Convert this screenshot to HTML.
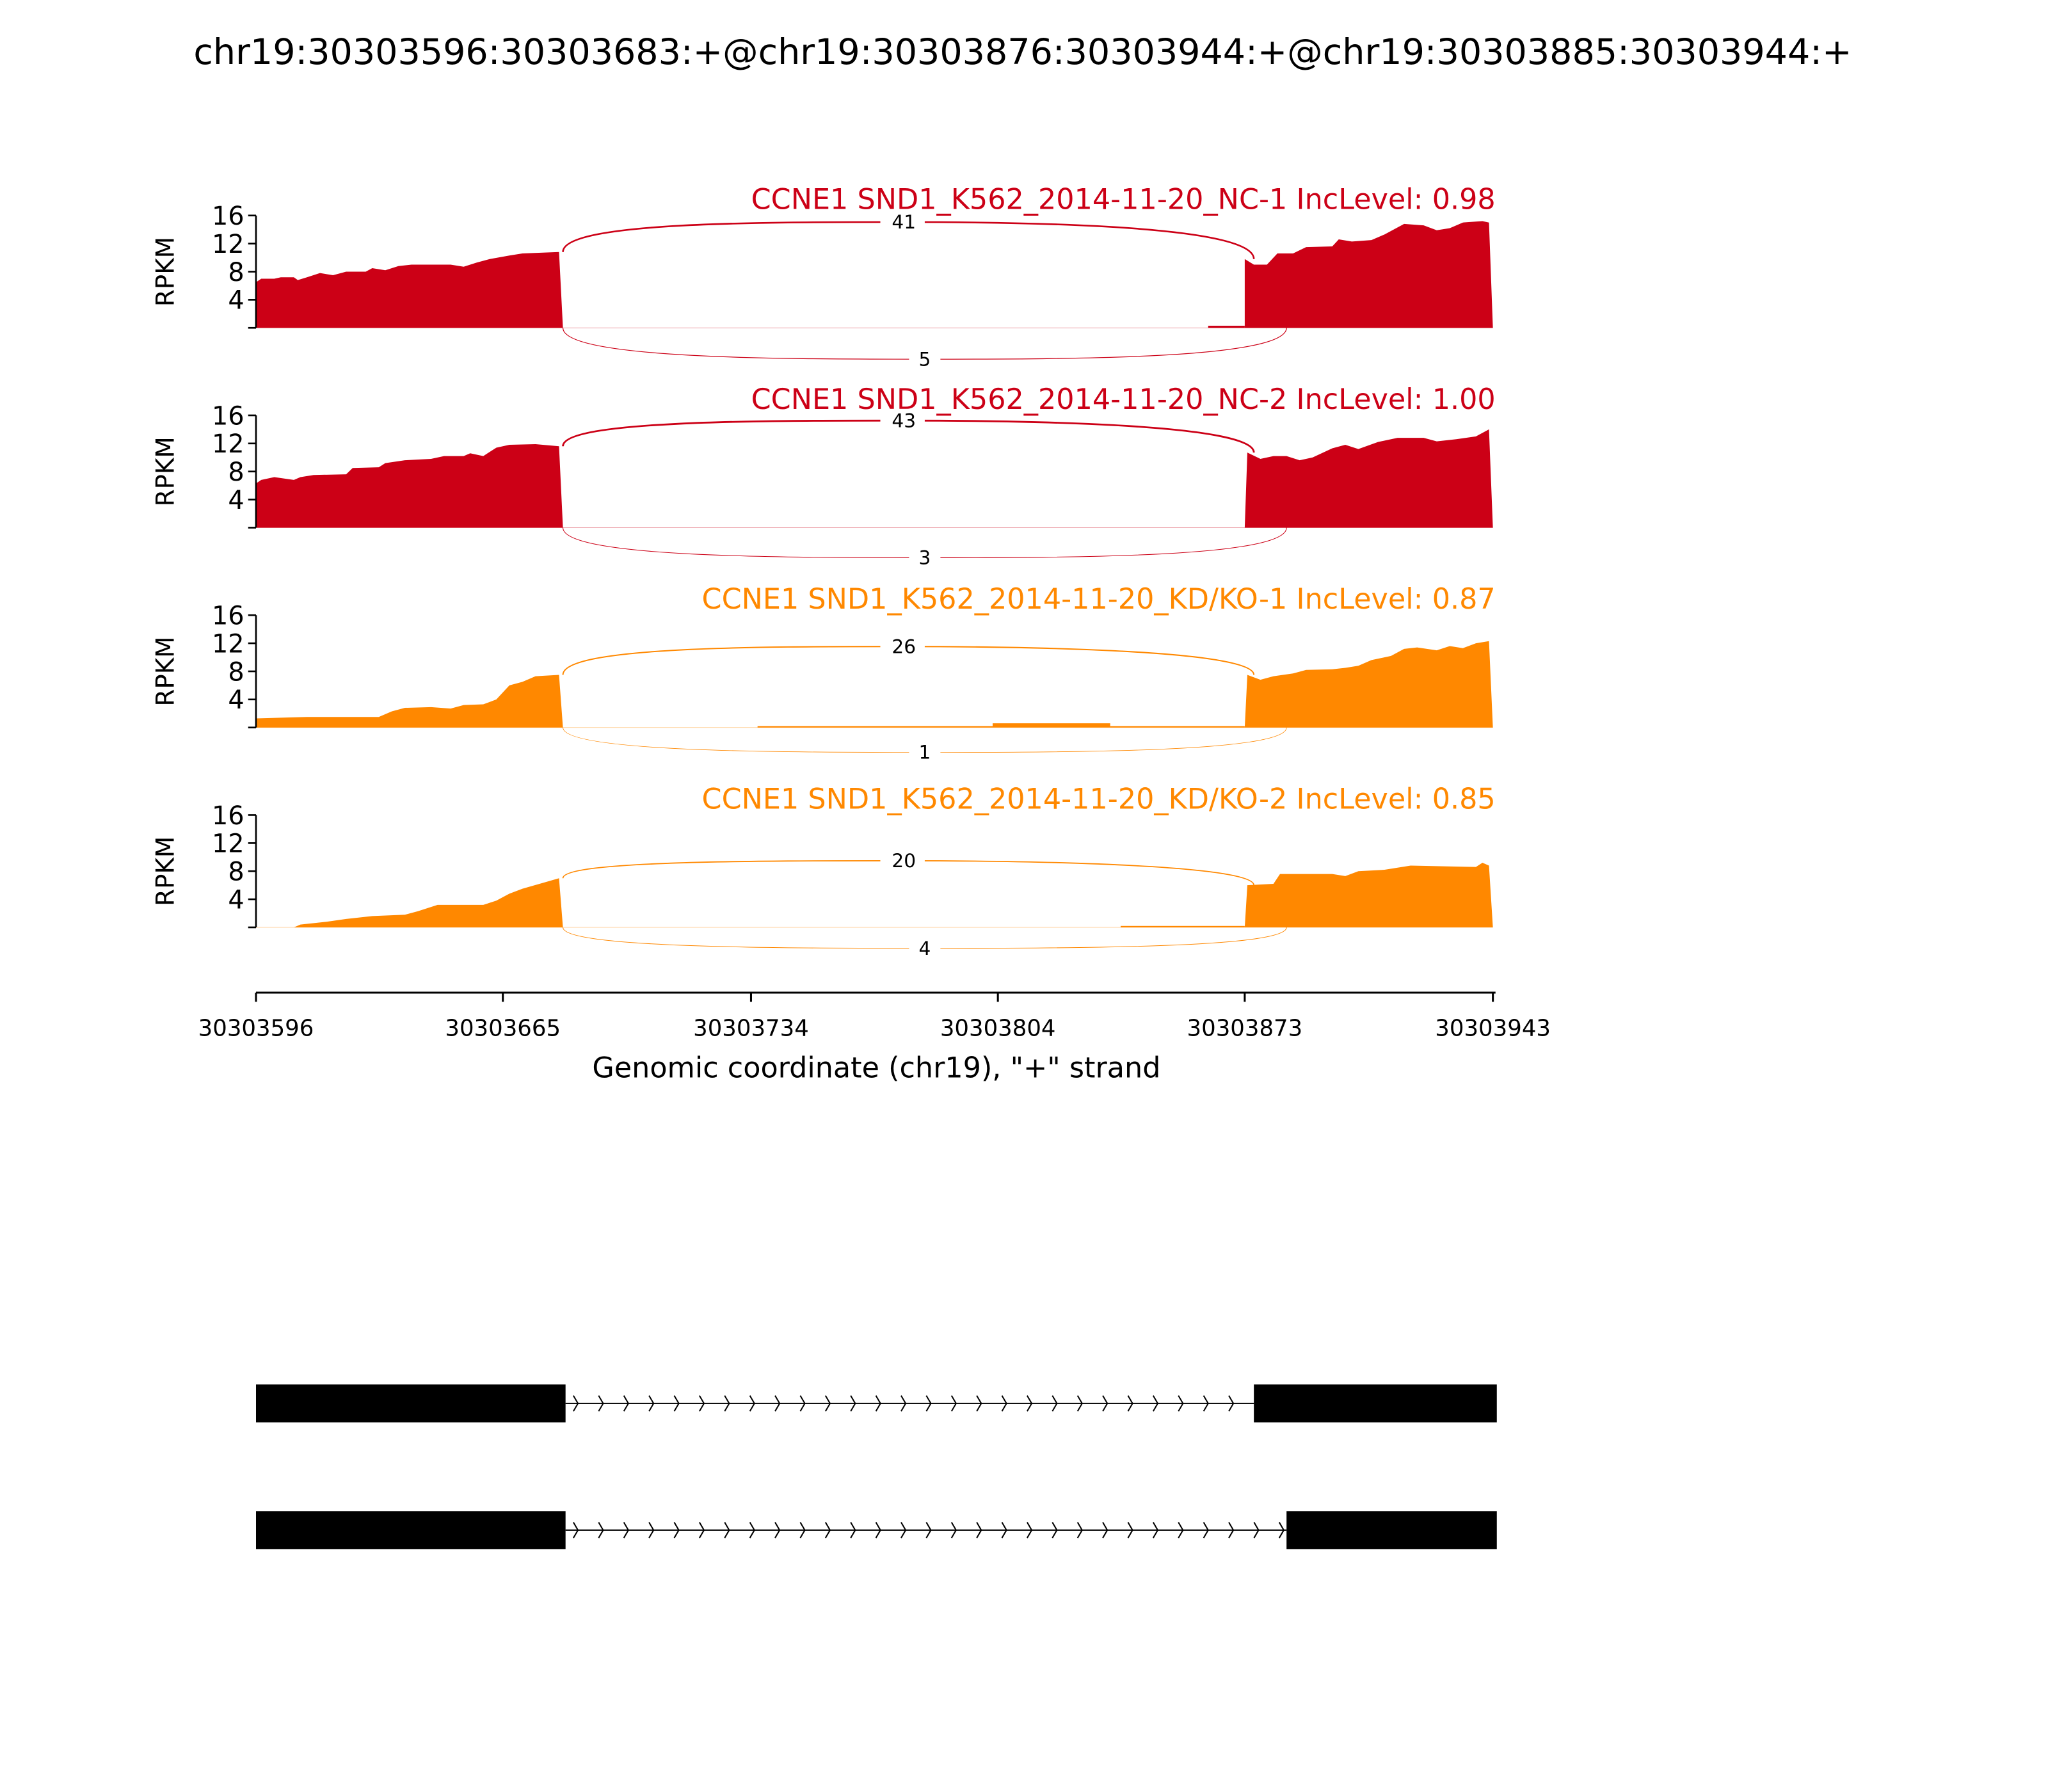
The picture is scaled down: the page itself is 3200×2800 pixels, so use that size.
<!DOCTYPE html>
<html><head><meta charset="utf-8"><style>
html,body{margin:0;padding:0;background:#fff}
svg{display:block}
text{font-family:"DejaVu Sans","Liberation Sans",sans-serif}
</style></head><body>
<svg id="s" width="3200" height="2800" viewBox="0 0 1568 1372" preserveAspectRatio="none" xmlns="http://www.w3.org/2000/svg">
<rect width="1568" height="1372" fill="#fff"/>
<text x="783" y="49" font-size="27.2" text-anchor="middle">chr19:30303596:30303683:+@chr19:30303876:30303944:+@chr19:30303885:30303944:+</text>
<g id="g"></g>
</svg>
<script>
var NS="http://www.w3.org/2000/svg",g=document.getElementById('g');
function el(t,a,txt){var e=document.createElementNS(NS,t);for(var k in a)e.setAttribute(k,a[k]);if(txt!=null)e.textContent=txt;g.appendChild(e);return e;}
var panels=[
{base:251,col:"#cc0016",title:"CCNE1 SND1_K562_2014-11-20_NC-1 IncLevel: 0.98",top:41,topY:170,bot:5,botY:275,tw:1.3,bw:0.6,
e1:[[196,6.5],[200,7],[210,7],[215,7.2],[225,7.2],[228,6.8],[235,7.2],[245,7.8],[255,7.5],[265,8],[280,8],[285,8.5],[295,8.2],[305,8.8],[315,9],[345,9],[355,8.7],[365,9.3],[375,9.8],[390,10.3],[400,10.6],[428,10.8]],
e2:[[953,9.8],[960,9],[970,9],[978,10.6],[990,10.6],[1000,11.5],[1020,11.6],[1025,12.6],[1035,12.3],[1050,12.5],[1060,13.3],[1075,14.8],[1090,14.6],[1100,13.9],[1110,14.2],[1120,15],[1135,15.2],[1140,15]],
low:[[925,953,0.3]],s1:10.8,s2:9.8},
{base:404,col:"#cc0016",title:"CCNE1 SND1_K562_2014-11-20_NC-2 IncLevel: 1.00",top:43,topY:322,bot:3,botY:427,tw:1.4,bw:0.5,
e1:[[196,6.3],[200,6.8],[210,7.2],[225,6.8],[230,7.2],[240,7.5],[265,7.6],[270,8.5],[290,8.6],[295,9.2],[310,9.6],[330,9.8],[340,10.2],[355,10.2],[360,10.6],[370,10.2],[380,11.4],[390,11.8],[410,11.9],[428,11.6]],
e2:[[955,10.7],[965,9.8],[975,10.2],[985,10.2],[995,9.6],[1005,10],[1020,11.3],[1030,11.8],[1040,11.2],[1055,12.2],[1070,12.8],[1090,12.8],[1100,12.3],[1115,12.6],[1130,13],[1140,14]],
low:[],s1:11.6,s2:10.7},
{base:557,col:"#ff8800",title:"CCNE1 SND1_K562_2014-11-20_KD/KO-1 IncLevel: 0.87",top:26,topY:495,bot:1,botY:576,tw:1.0,bw:0.4,
e1:[[196,1.3],[235,1.5],[290,1.5],[300,2.3],[310,2.8],[330,2.9],[345,2.7],[355,3.2],[370,3.3],[380,4],[390,6],[400,6.5],[410,7.3],[428,7.5]],
e2:[[955,7.5],[965,6.8],[975,7.3],[990,7.7],[1000,8.2],[1020,8.3],[1030,8.5],[1040,8.8],[1050,9.6],[1065,10.2],[1075,11.2],[1085,11.4],[1100,11],[1110,11.6],[1120,11.3],[1130,12],[1140,12.3]],
low:[[580,760,0.2],[760,850,0.6],[850,953,0.2]],s1:7.5,s2:7.5},
{base:710,col:"#ff8800",title:"CCNE1 SND1_K562_2014-11-20_KD/KO-2 IncLevel: 0.85",top:20,topY:659,bot:4,botY:726,tw:0.9,bw:0.5,
e1:[[196,0],[225,0],[230,0.4],[250,0.8],[265,1.2],[285,1.6],[310,1.8],[320,2.3],[335,3.2],[370,3.2],[380,3.8],[390,4.8],[400,5.5],[415,6.3],[428,7]],
e2:[[955,6],[975,6.2],[980,7.6],[1020,7.6],[1030,7.3],[1040,8],[1060,8.2],[1080,8.8],[1130,8.6],[1135,9.2],[1140,8.8]],
low:[[858,953,0.2]],s1:7,s2:6}
];
var H=86;
panels.forEach(function(p){
  var b=p.base,u=H/16;
  function Y(v){return b-v*u;}
  var d="M196,"+b;p.e1.forEach(function(q){d+=" L"+q[0]+","+Y(q[1]);});d+=" L431,"+b+" Z";
  el('path',{d:d,fill:p.col});
  d="M953,"+b;p.e2.forEach(function(q){d+=" L"+q[0]+","+Y(q[1]);});d+=" L1143,"+b+" Z";
  el('path',{d:d,fill:p.col});
  p.low.forEach(function(l){el('rect',{x:l[0],y:Y(l[2]),width:l[1]-l[0],height:l[2]*u,fill:p.col});});
  el('line',{x1:196,y1:b,x2:1143,y2:b,stroke:p.col,"stroke-width":0.4,opacity:0.5});
  el('line',{x1:196,y1:b-H,x2:196,y2:b,stroke:"#000","stroke-width":1.3});
  [0,4,8,12,16].forEach(function(v){el('line',{x1:190,y1:Y(v),x2:196,y2:Y(v),stroke:"#000","stroke-width":1.3});
    if(v>0)el('text',{x:187,y:Y(v)+7,"font-size":19.5,"text-anchor":"end"},String(v));});
  el('text',{x:133,y:b-H/2,"font-size":19,"text-anchor":"middle",transform:"rotate(-90 133 "+(b-H/2)+")"},"RPKM");
  el('text',{x:1145,y:b-91,"font-size":21.8,"text-anchor":"end",fill:p.col},p.title);
  var y1=Y(p.s1),y2=Y(p.s2),t=p.topY;
  el('path',{d:"M431,"+y1+" C431,"+(t)+" 580,"+t+" 690,"+t+" C810,"+t+" 960,"+(t+4)+" 960,"+y2,fill:"none",stroke:p.col,"stroke-width":p.tw});
  var bt=p.botY;
  el('path',{d:"M431,"+b+" C431,"+bt+" 600,"+bt+" 708,"+bt+" C820,"+bt+" 985,"+bt+" 985,"+b,fill:"none",stroke:p.col,"stroke-width":p.bw});
  el('rect',{x:674,y:t-9,width:34,height:18,fill:"#fff"});
  el('text',{x:692,y:t+5,"font-size":14.5,"text-anchor":"middle"},String(p.top));
  el('rect',{x:696,y:bt-9,width:24,height:18,fill:"#fff"});
  el('text',{x:708,y:bt+5,"font-size":14.5,"text-anchor":"middle"},String(p.bot));
});
el('line',{x1:196,y1:760,x2:1145,y2:760,stroke:"#000","stroke-width":1.5});
var tx=[196,385,575,764,953,1143],tl=["30303596","30303665","30303734","30303804","30303873","30303943"];
tx.forEach(function(x,i){el('line',{x1:x,y1:760,x2:x,y2:767,stroke:"#000","stroke-width":1.5});
  el('text',{x:x,y:793,"font-size":17.4,"text-anchor":"middle"},tl[i]);});
el('text',{x:671,y:825,"font-size":21.8,"text-anchor":"middle"},'Genomic coordinate (chr19), "+" strand');
function gene(y0,e2s,end){
  el('rect',{x:196,y:y0,width:237,height:29,fill:"#000"});
  el('rect',{x:e2s,y:y0,width:1146-e2s,height:29,fill:"#000"});
  var c=y0+14.5;
  el('line',{x1:433,y1:c,x2:e2s,y2:c,stroke:"#000","stroke-width":1});
  for(var x=441;x<end;x+=19.3){el('path',{d:"M"+(x-2)+","+(c-6)+" L"+(x+1.5)+","+c+" L"+(x-2)+","+(c+6),fill:"none",stroke:"#000","stroke-width":1});}
}
gene(1060,960,958);
gene(1157,985,983);
</script>
</body></html>
